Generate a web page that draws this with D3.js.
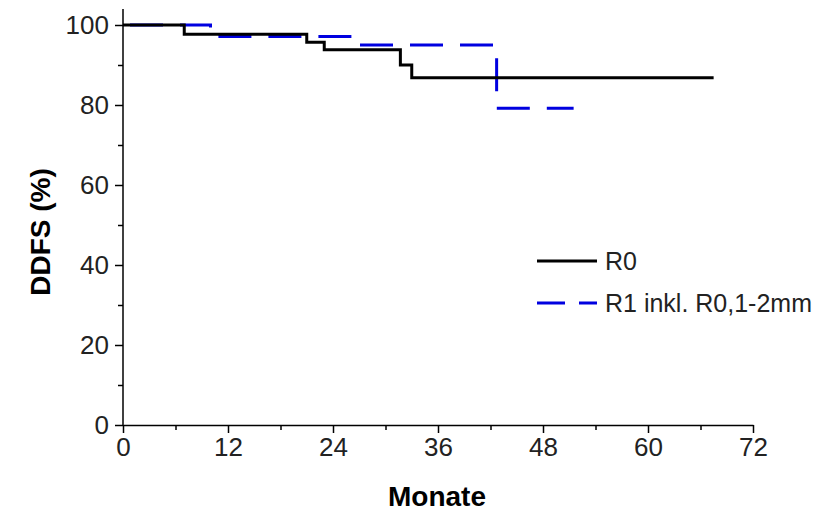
<!DOCTYPE html>
<html>
<head>
<meta charset="utf-8">
<script src="https://cdn.jsdelivr.net/npm/d3@7"></script>
<style>
  body { margin: 0; background: #fff; }
  svg text { font-family: Arial, "Liberation Sans", sans-serif; }
</style>
</head>
<body>
<div id="chart"></div>
<script>
// Chart size
const width = 830;
const height = 524;

// Kaplan-Meier step data (months, DDFS %)
const r0Months = [0, 7, 21, 23, 31.7, 33, 67.5];
const r0Values = [100, 97.7, 95.7, 93.8, 90, 86.8, 86.8];
const r1Months = [0, 10, 27, 42.7, 51.5];
const r1Values = [100, 97.1, 95, 79.2, 79.2];

// Axis ticks
const xTicks = [0, 12, 24, 36, 48, 60, 72];
const xMinor = [6, 18, 30, 42, 54, 66];
const yTicks = [0, 20, 40, 60, 80, 100];
const yMinor = [10, 30, 50, 70, 90];

// Legend labels
const seriesNames = ['R0', 'R1 inkl. R0,1-2mm'];

const x = d3.scaleLinear().domain([0, 72]).range([123, 753]);
const y = d3.scaleLinear().domain([0, 100]).range([425, 25]);

const svg = d3.select('#chart')
    .append('svg')
    .attr('width', width)
    .attr('height', height);

// x axis
svg.append('g')
    .attr('transform', `translate(0, ${y(0)})`)
    .call(d3.axisBottom(x).tickValues(xTicks).tickSize(8).tickPadding(5).tickSizeOuter(0));
svg.append('g')
    .attr('transform', `translate(0, ${y(0)})`)
    .call(d3.axisBottom(x).tickValues(xMinor).tickSize(5).tickFormat('').tickSizeOuter(0))
    .select('.domain').remove();

// y axis, the line runs a little above 100
const yAxis = svg.append('g')
    .attr('transform', `translate(${x(0)}, 0)`)
    .call(d3.axisLeft(y).tickValues(yTicks).tickSize(8).tickPadding(6).tickSizeOuter(0));
yAxis.select('.domain').attr('d', `M0,${y(0)}V${y(104)}`);
svg.append('g')
    .attr('transform', `translate(${x(0)}, 0)`)
    .call(d3.axisLeft(y).tickValues(yMinor).tickSize(5).tickFormat('').tickSizeOuter(0))
    .select('.domain').remove();

svg.selectAll('.domain, .tick line')
    .attr('stroke', '#000')
    .attr('stroke-width', 1.5);
svg.selectAll('.tick text')
    .attr('font-size', 26)
    .attr('fill', '#222');

// Axis titles
svg.append('text')
    .attr('x', 437)
    .attr('y', 506)
    .attr('text-anchor', 'middle')
    .attr('font-size', 28)
    .attr('font-weight', 'bold')
    .text('Monate');

svg.append('text')
    .attr('transform', 'translate(50, 232) rotate(-90)')
    .attr('text-anchor', 'middle')
    .attr('font-size', 28)
    .attr('font-weight', 'bold')
    .text('DDFS (%)');

// Survival curves
const line = d3.line()
    .x(d => x(d[0]))
    .y(d => y(d[1]))
    .curve(d3.curveStepAfter);

svg.append('path')
    .datum(d3.zip(r1Months, r1Values))
    .attr('d', line)
    .attr('fill', 'none')
    .attr('stroke', '#0000e0')
    .attr('stroke-width', 3)
    .attr('stroke-dasharray', '33,17')
    .attr('stroke-dashoffset', -7);

svg.append('path')
    .datum(d3.zip(r0Months, r0Values))
    .attr('d', line)
    .attr('fill', 'none')
    .attr('stroke', '#000')
    .attr('stroke-width', 3);

// Legend
const legend = svg.append('g');
const legendY = [261, 303];
seriesNames.forEach((name, i) => {
    legend.append('line')
        .attr('x1', 537).attr('x2', 597)
        .attr('y1', legendY[i]).attr('y2', legendY[i])
        .attr('stroke', i === 0 ? '#000' : '#0000e0')
        .attr('stroke-width', 3)
        .attr('stroke-dasharray', i === 0 ? null : '28,14');
    legend.append('text')
        .attr('x', 605)
        .attr('y', legendY[i] + 9)
        .attr('font-size', 25)
        .attr('fill', '#222')
        .text(name);
});
</script>
</body>
</html>
